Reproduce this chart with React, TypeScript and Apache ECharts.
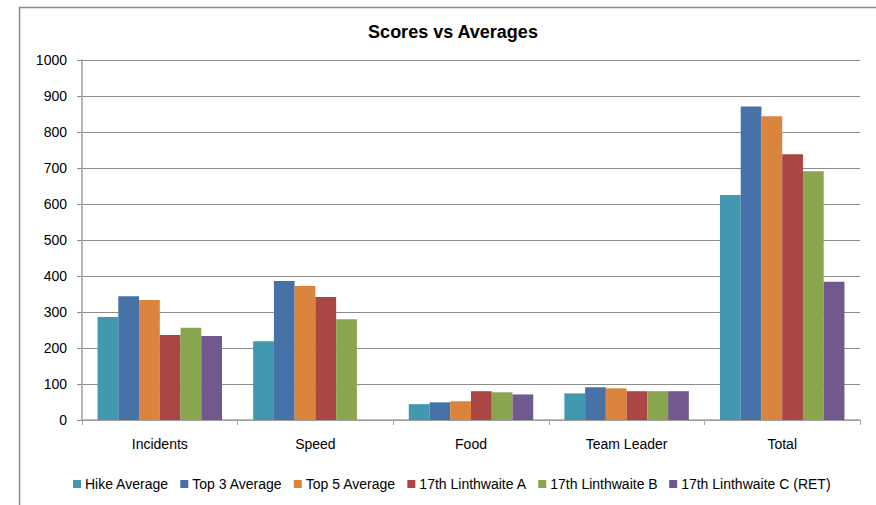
import React, { useEffect, useRef } from "react";
import * as echarts from "echarts";

const categories = ["Incidents", "Speed", "Food", "Team Leader", "Total"];
const seriesNames = [
  "Hike Average",
  "Top 3 Average",
  "Top 5 Average",
  "17th Linthwaite A",
  "17th Linthwaite B",
  "17th Linthwaite C (RET)",
];
const hikeAverage = [286, 219, 44, 74, 625];
const top3Average = [344, 386, 49, 91, 871];
const top5Average = [333, 372, 52, 88, 844];
const linthwaiteA = [236, 342, 80, 80, 738];
const linthwaiteB = [256, 280, 77, 80, 691];
const linthwaiteC = [233, 0, 71, 80, 384];
const seriesColors = ["#4198AF", "#4672A8", "#DB843D", "#AA4643", "#89A54E", "#71588F"];
const yTicks = { min: 0, max: 1000, interval: 100 };

export default function App() {
  const ref = useRef<HTMLDivElement>(null);
  useEffect(() => {
    if (!ref.current) return;
    const chart = echarts.init(ref.current, undefined, { renderer: "svg" });
    const values = [hikeAverage, top3Average, top5Average, linthwaiteA, linthwaiteB, linthwaiteC];
    const font = "'Liberation Sans', Arial, sans-serif";
    chart.setOption({
      animation: false,
      backgroundColor: "#ffffff",
      title: {
        text: "Scores vs Averages",
        left: 448,
        textAlign: "center",
        top: 18,
        textStyle: { fontFamily: font, fontSize: 18, fontWeight: "bold", color: "#000" },
      },
      graphic: [
        {
          type: "rect",
          shape: { x: 19.5, y: 7.5, width: 900, height: 600 },
          style: { fill: "none", stroke: "#8a8a8a", lineWidth: 1.5 },
          silent: true,
        },
      ],
      legend: {
        left: 73,
        top: 477,
        padding: 0,
        icon: "rect",
        itemWidth: 8,
        itemHeight: 8,
        itemGap: 11.5,
        textStyle: { fontFamily: font, fontSize: 14, color: "#000", padding: [0, 0, 0, -1] },
        data: seriesNames,
      },
      grid: { left: 82, right: 16, top: 60, bottom: 85, containLabel: false },
      xAxis: {
        type: "category",
        data: categories,
        axisLine: { show: true, lineStyle: { color: "#a6a6a6", width: 1.5 } },
        axisTick: { show: true, length: 5, lineStyle: { color: "#a6a6a6" } },
        axisLabel: { fontFamily: font, fontSize: 14, color: "#000", margin: 17 },
      },
      yAxis: {
        type: "value",
        min: yTicks.min,
        max: yTicks.max,
        interval: yTicks.interval,
        axisLine: { show: true, lineStyle: { color: "#b5b5b5", width: 2 } },
        axisTick: { show: true, length: 5, lineStyle: { color: "#8a8a8a" } },
        splitLine: { show: true, lineStyle: { color: "#8c8c8c", width: 1 } },
        axisLabel: {
          fontFamily: font,
          fontSize: 14,
          color: "#000",
          margin: 15,
          formatter: (v: number) => String(v),
        },
      },
      series: seriesNames.map((name, i) => ({
        name,
        type: "bar",
        data: values[i],
        barGap: "0%",
        barCategoryGap: "20%",
        itemStyle: { color: seriesColors[i] },
      })),
    });
    return () => chart.dispose();
  }, []);
  return (
    <div
      ref={ref}
      style={{ position: "absolute", left: 0, top: 0, width: 876, height: 505 }}
    />
  );
}
